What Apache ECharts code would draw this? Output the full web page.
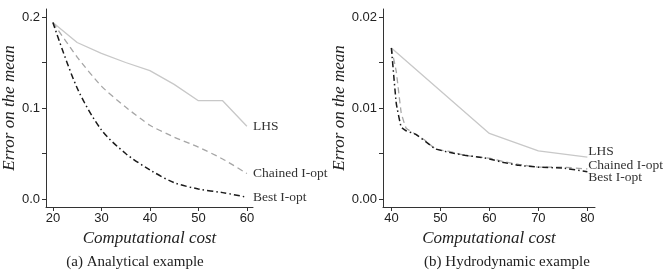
<!DOCTYPE html>
<html>
<head>
<meta charset="utf-8">
<script src="https://cdn.jsdelivr.net/npm/echarts@6/dist/echarts.min.js"></script>
<style>html,body{margin:0;padding:0;background:#fff;}#c{width:663px;height:270px;}</style>
</head>
<body>
<div id="c"></div>
<script>
// Panel (a): Analytical example
const costA = [20, 25, 30, 35, 40, 45, 50, 55, 60];
const lhsA = [0.194, 0.172, 0.160, 0.150, 0.141, 0.126, 0.108, 0.108, 0.080];
const chainedA = [0.194, 0.156, 0.124, 0.101, 0.081, 0.068, 0.057, 0.044, 0.028];
const bestA = [0.194, 0.122, 0.076, 0.050, 0.032, 0.018, 0.011, 0.007, 0.002];
const xTicksA = [20, 30, 40, 50, 60];
const yTicksA = [0, 0.05, 0.1, 0.15, 0.2];
const yLabelsA = [0, 0.1, 0.2];

// Panel (b): Hydrodynamic example
const costLhsB = [40, 50, 60, 70, 80];
const lhsB = [0.0166, 0.0119, 0.0072, 0.0053, 0.0046];
const costB = [40, 41, 42, 43, 45, 47, 49, 52, 55, 58, 60, 63, 66, 70, 75, 80];
const chainedB = [0.0166, 0.0140, 0.0095, 0.0078, 0.0071, 0.0064, 0.0055, 0.0052, 0.0048, 0.0046, 0.0045, 0.0041, 0.0038, 0.0035, 0.0035, 0.0033];
const bestB = [0.0166, 0.0105, 0.0079, 0.0075, 0.0071, 0.0063, 0.0055, 0.0051, 0.0048, 0.0046, 0.0044, 0.0040, 0.0037, 0.0035, 0.0034, 0.0030];
const xTicksB = [40, 50, 60, 70, 80];
const yTicksB = [0, 0.005, 0.01, 0.015, 0.02];
const yLabelsB = [0, 0.01, 0.02];

const names = ['LHS', 'Chained I-opt', 'Best I-opt'];
const captions = ['(a) Analytical example', '(b) Hydrodynamic example'];
const xTitle = 'Computational cost';
const yTitle = 'Error on the mean';

const zip = (xs, ys) => xs.map((x, i) => [x, ys[i]]);
const serif = 'Liberation Serif';
const sans = 'Liberation Sans';
const axisCol = '#333';

function xAxisCfg(idx, min, max, ticks) {
  return {
    type: 'value', gridIndex: idx, min: min, max: max,
    splitLine: {show: false},
    axisLine: {show: true, onZero: false, lineStyle: {color: axisCol, width: 1}},
    axisTick: {show: true, length: 4, customValues: ticks, lineStyle: {color: axisCol}},
    axisLabel: {customValues: ticks, margin: 5, fontFamily: sans, fontSize: 13, color: '#222'},
    name: xTitle, nameLocation: 'middle', nameGap: 20,
    nameTextStyle: {fontFamily: serif, fontStyle: 'italic', fontSize: 17, color: '#222'}
  };
}
function yAxisCfg(idx, min, max, ticks, labels, dec, gap) {
  return {
    type: 'value', gridIndex: idx, min: min, max: max,
    splitLine: {show: false},
    axisLine: {show: true, onZero: false, lineStyle: {color: axisCol, width: 1}},
    axisTick: {show: true, length: 4, customValues: ticks, lineStyle: {color: axisCol}},
    axisLabel: {customValues: labels, margin: 6, fontFamily: sans, fontSize: 13, color: '#222',
      formatter: v => Number(v).toFixed(dec)},
    name: yTitle, nameLocation: 'middle', nameGap: gap, nameRotate: 90,
    nameTextStyle: {fontFamily: serif, fontStyle: 'italic', fontSize: 17, color: '#222'}
  };
}
const styles = [
  {color: '#c8c8c8', width: 1.3, type: 'solid'},
  {color: '#a6a6a6', width: 1.3, type: [6, 4]},
  {color: '#1a1a1a', width: 1.5, type: [6, 3, 1.5, 3]}
];
function series(idx, nameIdx, data, smooth, dist, off) {
  return {
    type: 'line', name: names[nameIdx], xAxisIndex: idx, yAxisIndex: idx,
    data: data, showSymbol: false, symbol: 'none', smooth: smooth,
    lineStyle: styles[nameIdx], animation: false, silent: true,
    endLabel: {show: true, formatter: '{a}', distance: dist, offset: off,
      fontFamily: serif, fontSize: 13.5, color: '#333'}
  };
}

const chart = echarts.init(document.getElementById('c'), null, {renderer: 'canvas'});
chart.setOption({
  animation: false,
  backgroundColor: '#fff',
  title: [
    {text: captions[0], left: 130, top: 250, textAlign: 'center',
      textStyle: {fontFamily: serif, fontWeight: 'normal', fontSize: 15, color: '#222'}},
    {text: captions[1], left: 502, top: 250, textAlign: 'center',
      textStyle: {fontFamily: serif, fontWeight: 'normal', fontSize: 15, color: '#222'}}
  ],
  grid: [
    {left: 43, top: 9, width: 210, height: 198},
    {left: 383, top: 9, width: 212, height: 198}
  ],
  xAxis: [
    xAxisCfg(0, 18.58, 61.26, xTicksA),
    xAxisCfg(1, 38.29, 81.56, xTicksB)
  ],
  yAxis: [
    yAxisCfg(0, -0.00879, 0.20879, yTicksA, yLabelsA, 1, 28),
    yAxisCfg(1, -0.000879, 0.020879, yTicksB, yLabelsB, 2, 30)
  ],
  series: [
    series(0, 0, zip(costA, lhsA), false, 6, [0, 0]),
    series(0, 1, zip(costA, chainedA), 0.2, 6, [0, 0]),
    series(0, 2, zip(costA, bestA), 0.3, 6, [0, 0]),
    series(1, 0, zip(costLhsB, lhsB), false, 1, [0, -6]),
    series(1, 1, zip(costB, chainedB), 0.1, 1, [0, -4]),
    series(1, 2, zip(costB, bestB), 0.1, 1, [0, 6])
  ]
});
</script>
</body>
</html>
